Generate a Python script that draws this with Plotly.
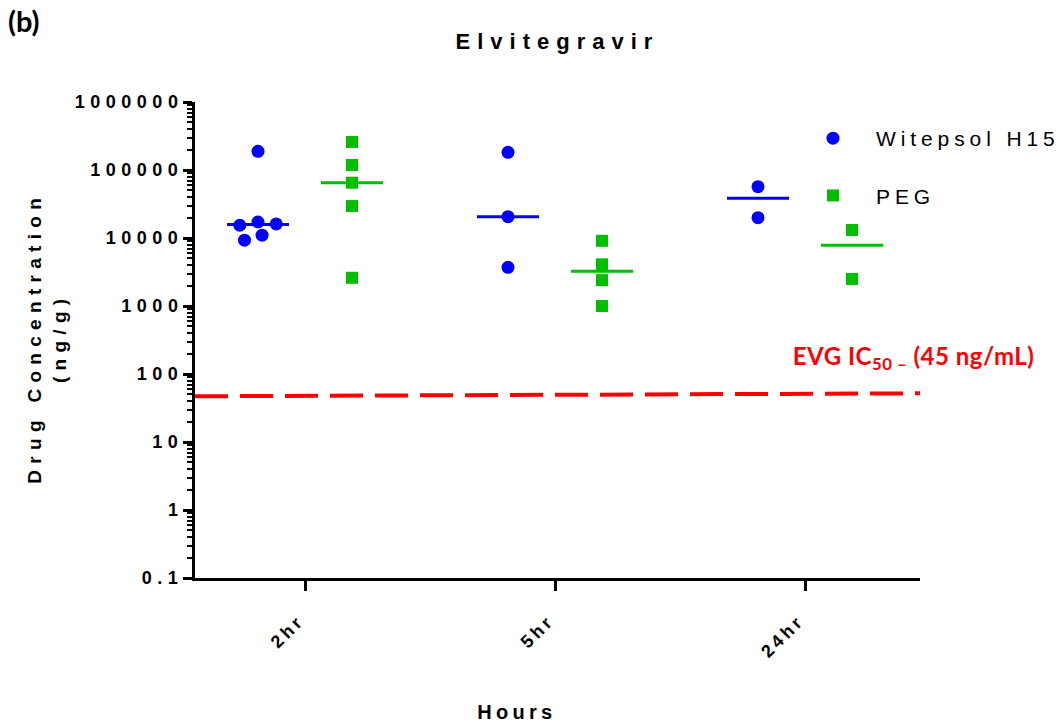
import numpy as np
import plotly.graph_objects as go

# ---------------- data ----------------
categories = ["2hr", "5hr", "24hr"]
witepsol_2hr = [188000, 15400, 17200, 16100, 9300, 11000]
witepsol_5hr = [182000, 20600, 3700]
witepsol_24hr = [56800, 19900]
peg_2hr = [258000, 118500, 65000, 29500, 2600]
peg_5hr = [9100, 4100, 2400, 1000]
peg_24hr = [13100, 2500]
y_tick_vals = [0.1, 1, 10, 100, 1000, 10000, 100000, 1000000]
y_tick_labels = ["0.1", "1", "10", "100", "1000", "10000", "100000", "1000000"]
ic50_line_ends = [47, 52]

# ---------------- layout constants ----------------
W, H = 1060, 725
ML, MR, MT, MB = 195, 140, 102, 147
PW, PH = W - ML - MR, H - MT - MB
X_RANGE = [-0.44, 2.46]
Y_RANGE = [-1, 6]
PX_X = PW / (X_RANGE[1] - X_RANGE[0])
PX_DEC = PH / (Y_RANGE[1] - Y_RANGE[0])
GROUP_OFF = 0.188
MED_HALF = 0.124

BLUE = "#0000FF"
GREEN = "#00BE00"
RED = "#FF0000"


def swarm(values, diam_px=13.5, spread=1.35):
    """Greedy beeswarm: horizontal offsets (in axis units) so markers don't overlap."""
    order = np.argsort(values)[::-1]
    ys = np.log10(values) * PX_DEC
    placed = []
    offs = [0.0] * len(values)
    for idx in order:
        y = ys[idx]
        best = None
        step = 0
        while best is None:
            for sgn in ([1] if step == 0 else [1, -1]):
                dx = sgn * step * 0.5
                if all((dx - px) ** 2 + (y - py) ** 2 >= diam_px ** 2 for px, py in placed):
                    best = dx
                    break
            step += 1
        placed.append((best, y))
        offs[idx] = best * spread / PX_X
    return offs


def series_traces(groups, name, color, symbol, size, sign):
    xs, ys, lx, ly = [], [], [], []
    for i, vals in enumerate(groups):
        center = i + sign * GROUP_OFF
        for o, v in zip(swarm(vals), vals):
            xs.append(center + o)
            ys.append(v)
        med = float(np.median(vals))
        lx += [center - MED_HALF, center + MED_HALF, None]
        ly += [med, med, None]
    pts = go.Scatter(x=xs, y=ys, mode="markers", name=name,
                     marker=dict(color=color, symbol=symbol, size=size, line=dict(width=0)),
                     legendgroup=name, showlegend=True)
    med = go.Scatter(x=lx, y=ly, mode="lines", line=dict(color=color, width=3),
                     showlegend=False, hoverinfo="skip", legendgroup=name)
    return [med, pts]


fig = go.Figure()
for t in series_traces([witepsol_2hr, witepsol_5hr, witepsol_24hr], "Witepsol H15", BLUE, "circle", 13, -1):
    fig.add_trace(t)
for t in series_traces([peg_2hr, peg_5hr, peg_24hr], "PEG", GREEN, "square", 12, 1):
    fig.add_trace(t)

# IC50 dashed line
fig.add_shape(type="line", xref="paper", yref="y", x0=0, x1=1,
              y0=ic50_line_ends[0], y1=ic50_line_ends[1],
              line=dict(color=RED, width=4, dash="33px,12px"), layer="above")

ARIAL = "Liberation Sans, Arial, sans-serif"
LATO = "Lato, Carlito, Calibri, sans-serif"


def py(px):
    return (MT + PH - px) / PH


def pxx(px):
    return (px - ML) / PW


fig.add_annotation(text="EVG IC<sub>50 –</sub> (45 ng/mL)", xref="paper", yref="paper",
                   x=pxx(913), y=py(357), showarrow=False, xanchor="center", yanchor="middle",
                   font=dict(family=LATO, size=24, color=RED, weight="bold"))
fig.add_annotation(text="(b)", xref="paper", yref="paper", x=pxx(6), y=py(21),
                   showarrow=False, xanchor="left", yanchor="middle",
                   font=dict(family=LATO, size=29, color="black", weight="bold"))
fig.add_annotation(text="Drug Concentration<br>(ng/g)", xref="paper", yref="paper",
                   x=pxx(47), y=py(338), showarrow=False, textangle=-90,
                   xanchor="center", yanchor="middle",
                   font=dict(family=ARIAL, size=19, color="black", weight="bold"))
fig.add_annotation(text="Hours", xref="paper", yref="paper",
                   x=pxx(517), y=py(712), showarrow=False, xanchor="center", yanchor="middle",
                   font=dict(family=ARIAL, size=20, color="black", weight="bold"))

fig.update_layout(
    width=W, height=H,
    margin=dict(l=ML, r=MR, t=MT, b=MB, pad=0),
    paper_bgcolor="white", plot_bgcolor="white",
    title=dict(text="Elvitegravir", x=0.5, xref="paper", xanchor="center",
               y=1 - 41 / H, yref="container", yanchor="middle",
               font=dict(family=ARIAL, size=22, color="black", weight="bold")),
    legend=dict(x=pxx(790), y=py(118), xanchor="left", yanchor="top",
                font=dict(family=ARIAL, size=21, color="black"),
                itemwidth=76,
                tracegroupgap=27, bgcolor="rgba(0,0,0,0)", traceorder="grouped"),
    xaxis=dict(range=X_RANGE, tickmode="array", tickvals=list(range(len(categories))),
               ticktext=categories, tickangle=-45, showgrid=False, zeroline=False,
               showline=True, linecolor="black", linewidth=3,
               ticks="outside", ticklen=10, tickwidth=3, tickcolor="black",
               ticklabelstandoff=12, ticklabelshift=-6,
               tickfont=dict(family=ARIAL, size=18, color="black", weight="bold")),
    yaxis=dict(type="log", range=Y_RANGE, tickmode="array", tickvals=y_tick_vals,
               ticktext=y_tick_labels, showgrid=False, zeroline=False,
               showline=True, linecolor="black", linewidth=3,
               ticks="outside", ticklen=9, tickwidth=3, tickcolor="black",
               ticklabelstandoff=-4,
               tickfont=dict(family=ARIAL, size=18, color="black", weight="bold"),
               minor=dict(ticks="outside", ticklen=5, tickwidth=2, tickcolor="black",
                          dtick="D1", showgrid=False)),
)

# letter spacing like the original figure (applied to the rendered SVG text)
post_js = """
(function(){
  var rules = [
    ['.ytick text', '5.5px'],
    ['.xtick text', '3.5px'],
    ['.gtitle', '7px'],
    ['.legendtext', '4.9px'],
    ['.annotation[data-index="0"] text', '0.5px'],
    ['.annotation[data-index="2"] text', '6.3px'],
    ['.annotation[data-index="3"] text', '4.3px']
  ];
  function applyLS(){
    rules.forEach(function(r){
      document.querySelectorAll(r[0]).forEach(function(el){ el.style.letterSpacing = r[1]; });
    });
    document.querySelectorAll('.legend .scrollbox').forEach(function(el){
      el.removeAttribute('clip-path');
    });
  }
  applyLS();
  setTimeout(applyLS, 0);
  setTimeout(applyLS, 100);
  var gd = document.getElementById('{plot_id}');
  if (gd && gd.on) { gd.on('plotly_afterplot', applyLS); }
})();
"""

fig.write_html("out.html", post_script=post_js)
